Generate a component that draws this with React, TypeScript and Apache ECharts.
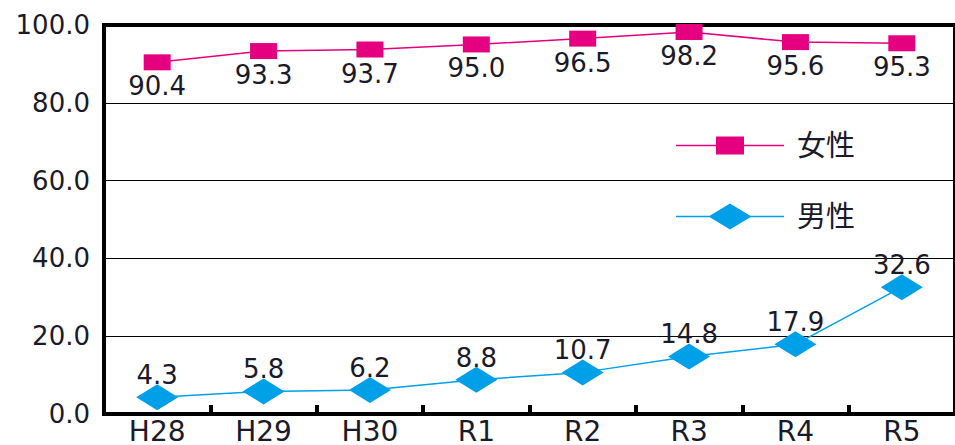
import React, { useEffect, useRef } from "react";
import * as echarts from "echarts";

const categories = ["H28", "H29", "H30", "R1", "R2", "R3", "R4", "R5"];
const femaleValues = [90.4, 93.3, 93.7, 95.0, 96.5, 98.2, 95.6, 95.3];
const maleValues = [4.3, 5.8, 6.2, 8.8, 10.7, 14.8, 17.9, 32.6];
const seriesNames = ["女性", "男性"];

const FONT = "'DejaVu Sans', 'Noto Sans CJK JP', sans-serif";
const TEXT = "#1a1a2a";
const PINK = "#E4007F";
const BLUE = "#00A0E9";

// legend icons: thin line with the series marker in the middle (108 x 26 box)
const femaleIcon =
  "path://M0,12.25L108,12.25L108,13.75L0,13.75Z M40,4L68,4L68,22L40,22Z";
const maleIcon =
  "path://M0,12.25L108,12.25L108,13.75L0,13.75Z M32.5,13L54,0L75.5,13L54,26Z";

export default function App() {
  const ref = useRef<HTMLDivElement>(null);
  useEffect(() => {
    if (!ref.current) return;
    const chart = echarts.init(ref.current, undefined, { renderer: "svg" });
    chart.setOption({
      animation: false,
      backgroundColor: "#fff",
      grid: {
        left: 104,
        right: -3,
        top: 25,
        bottom: 26,
        show: true,
        borderColor: "#000",
        borderWidth: 4,
      },
      legend: {
        orient: "vertical",
        left: 676,
        top: 131,
        padding: 0,
        itemWidth: 108,
        itemHeight: 26,
        itemGap: 42,
        symbolKeepAspect: true,
        textStyle: { fontFamily: FONT, fontSize: 29, color: TEXT, padding: [0, 0, 0, 8] },
        data: [
          { name: seriesNames[0], icon: femaleIcon },
          { name: seriesNames[1], icon: maleIcon },
        ],
      },
      xAxis: {
        type: "category",
        data: categories,
        boundaryGap: true,
        axisLine: { show: true, lineStyle: { color: "#000", width: 4 } },
        axisTick: { show: true, inside: true, length: 9, lineStyle: { color: "#000", width: 4 } },
        axisLabel: { fontFamily: FONT, fontSize: 28, color: TEXT, margin: 3 },
      },
      yAxis: {
        type: "value",
        min: 0,
        max: 100,
        interval: 20,
        axisLine: { show: true, lineStyle: { color: "#000", width: 4 } },
        axisTick: { show: false },
        splitLine: { show: true, lineStyle: { color: "#000", width: 1 } },
        axisLabel: {
          fontFamily: FONT,
          fontSize: 26,
          color: TEXT,
          margin: 14,
          formatter: (v: number) => v.toFixed(1),
        },
      },
      series: [
        {
          name: seriesNames[0],
          type: "line",
          data: femaleValues,
          symbol: "rect",
          symbolSize: [27, 16],
          itemStyle: { color: PINK },
          lineStyle: { color: PINK, width: 1.5 },
          label: {
            show: true,
            position: "bottom",
            distance: 3,
            fontFamily: FONT,
            fontSize: 26,
            color: TEXT,
            formatter: (p: any) => Number(p.value).toFixed(1),
          },
          z: 3,
        },
        {
          name: seriesNames[1],
          type: "line",
          data: maleValues,
          symbol: "diamond",
          symbolSize: [42, 26],
          itemStyle: { color: BLUE },
          lineStyle: { color: BLUE, width: 1.5 },
          label: {
            show: true,
            position: "top",
            distance: -4,
            fontFamily: FONT,
            fontSize: 26,
            color: TEXT,
            formatter: (p: any) => Number(p.value).toFixed(1),
          },
          z: 3,
        },
      ],
    });
    return () => chart.dispose();
  }, []);
  return (
    <div
      ref={ref}
      style={{ position: "absolute", left: 0, top: 0, width: 955, height: 445 }}
    />
  );
}
